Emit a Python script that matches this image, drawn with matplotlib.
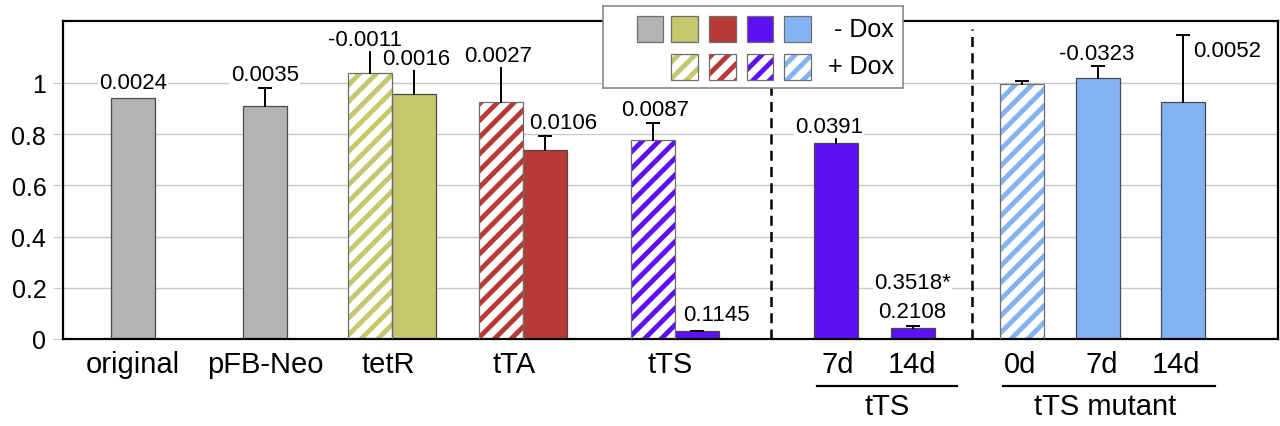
import numpy as np
import matplotlib
matplotlib.use("Agg")
import matplotlib.pyplot as plt
from matplotlib.patches import Rectangle
import matplotlib.transforms as mtransforms

plt.rcParams["font.family"] = ["Liberation Sans", "DejaVu Sans"]
plt.rcParams["hatch.linewidth"] = 3.5

# relative expression per construct, +Dox bars are hatched
bar_names = ["original", "pFB-Neo", "tetR +Dox", "tetR -Dox", "tTA +Dox", "tTA -Dox",
             "tTS +Dox", "tTS -Dox", "tTS 7d", "tTS 14d",
             "mutant 0d", "mutant 7d", "mutant 14d"]
values = [0.943, 0.909, 1.040, 0.958, 0.924, 0.738, 0.776, 0.030, 0.766, 0.042,
          0.996, 1.020, 0.924]
errors = [0.0, 0.073, 0.090, 0.098, 0.141, 0.054, 0.069, 0.002, 0.024, 0.010,
          0.010, 0.045, 0.263]
hatched = [False, False, True, False, True, False, True, False, False, False,
           True, False, False]
p_labels = ["0.0024", "0.0035", "-0.0011", "0.0016", "0.0027", "0.0106", "0.0087",
            "0.1145", "0.0391", "0.2108", "0.3518*", "-0.0323", "0.0052"]
tick_labels = ["original", "pFB-Neo", "tetR", "tTA", "tTS", "7d", "14d", "0d", "7d", "14d"]
group_labels = ["tTS", "tTS mutant"]

GRAY, OLIVE, RED, PURPLE, BLUE = "#b3b3b3", "#c5c86c", "#b83a36", "#5e0ff4", "#84b3f5"
colors = [GRAY, GRAY, OLIVE, OLIVE, RED, RED, PURPLE, PURPLE, PURPLE, PURPLE,
          BLUE, BLUE, BLUE]

# layout (bar width = 1 unit)
xpos = [1.59, 4.59, 6.98, 7.98, 9.95, 10.95, 13.41, 14.41, 17.56, 19.31, 21.79, 23.52, 25.45]
tick_pos = [1.59, 4.59, 7.4, 10.25, 13.8, 17.6, 19.3, 21.75, 23.6, 25.3]
label_pos = [(1.59, 0.980, "center"), (4.59, 1.012, "center"), (6.86, 1.150, "center"),
             (8.02, 1.074, "center"), (9.89, 1.086, "center"), (11.36, 0.824, "center"),
             (13.45, 0.876, "center"), (14.84, 0.075, "center"), (17.41, 0.809, "center"),
             (19.30, 0.086, "center"), (19.30, 0.199, "center"), (23.5, 1.094, "center"),
             (25.68, 1.105, "left")]
dividers = [16.09, 20.65]
groups = [(17.13, 20.32, 18.73), (21.36, 26.18, 23.68)]

fig = plt.figure(figsize=(12.8, 4.27), dpi=100)
ax = fig.add_axes([63 / 1280, 87 / 427, 1215 / 1280, 318 / 427])

ax.set_xlim(0, 27.61)
ax.set_ylim(0, 1.242)
ax.set_axisbelow(True)
ax.yaxis.grid(True, color="#c8c8c8", lw=1)
ax.set_yticks([0, 0.2, 0.4, 0.6, 0.8, 1])
ax.set_yticklabels(["0", "0.2", "0.4", "0.6", "0.8", "1"])
ax.tick_params(axis="y", length=7, color="#c8c8c8", labelsize=18, pad=5)
ax.set_xticks(tick_pos)
ax.set_xticklabels(tick_labels)
ax.tick_params(axis="x", length=0, labelsize=21, pad=8)
for s in ax.spines.values():
    s.set_linewidth(1.6)
    s.set_color("black")

for x, v, e, h, c in zip(xpos, values, errors, hatched, colors):
    if h:
        ax.bar(x, v, 1.0, color="white", edgecolor=c, hatch="//", lw=0, zorder=2)
        ax.bar(x, v, 1.0, color="none", edgecolor="#6e6e6e", lw=0.9, zorder=3)
    else:
        ax.bar(x, v, 1.0, color=c, edgecolor="#4a4a4a", lw=0.9, zorder=2)
    if e > 0:
        # upper half of the error bar only
        ax.plot([x, x], [v, v + e], color="black", lw=1.4, zorder=4)
        ax.plot([x], [v + e], marker="_", ms=10, mew=1.4, color="black", zorder=4)

for (x, y, ha), t in zip(label_pos, p_labels):
    ax.text(x, y, t, ha=ha, va="baseline", fontsize=16, zorder=5,
            bbox=dict(facecolor="white", edgecolor="none", pad=1.0))

for d in dividers:
    ax.plot([d, d], [0, 1.21], color="black", lw=1.8, ls=(0, (4, 2.5)), zorder=3)

trans = mtransforms.blended_transform_factory(ax.transData, ax.transAxes)
for (x0, x1, xc), name in zip(groups, group_labels):
    ax.plot([x0, x1], [-0.147, -0.147], color="black", lw=1.6,
            transform=trans, clip_on=False)
    ax.text(xc, -0.21, name, ha="center", va="center", fontsize=21,
            transform=trans)

# legend drawn in its own pixel-scaled axes
lax = fig.add_axes([602.7 / 1280, 1 - 89 / 427, 300.6 / 1280, 82 / 427])
lax.set_xlim(602.7, 903.3)
lax.set_ylim(89, 7)
lax.set_xticks([])
lax.set_yticks([])
for s in lax.spines.values():
    s.set_color("#8a8a8a")
    s.set_linewidth(1.2)
lax.set_facecolor("white")
col_x = [636.7, 671, 709.3, 746.7, 784.3]
for cx, c in zip(col_x, [GRAY, OLIVE, RED, PURPLE, BLUE]):
    lax.add_patch(Rectangle((cx, 17), 26.5, 26, facecolor=c, edgecolor="#6e6e6e", lw=0.9))
for cx, c in zip(col_x[1:], [OLIVE, RED, PURPLE, BLUE]):
    lax.add_patch(Rectangle((cx, 54.5), 26.5, 26, facecolor="white", edgecolor=c,
                            hatch="//", lw=0))
    lax.add_patch(Rectangle((cx, 54.5), 26.5, 26, facecolor="none",
                            edgecolor="#6e6e6e", lw=0.9))
lax.text(894, 30, "- Dox", ha="right", va="center", fontsize=18)
lax.text(894, 67.5, "+ Dox", ha="right", va="center", fontsize=18)

fig.savefig("out.png", dpi=100)
